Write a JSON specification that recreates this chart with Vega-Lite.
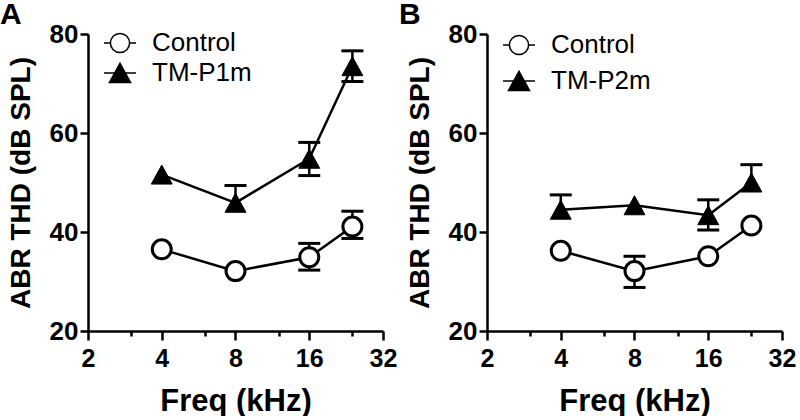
{
  "$schema": "https://vega.github.io/schema/vega-lite/v6.json",
  "background": "white",
  "padding": {"left": 0, "top": 0, "right": 0, "bottom": 0},
  "config": {
    "view": {"stroke": null},
    "axis": {"domainColor": "black", "domainWidth": 2.5, "tickColor": "black", "tickWidth": 2.5, "labelFont": "Liberation Sans", "labelFontWeight": "bold", "labelColor": "black", "titleFont": "Liberation Sans", "titleFontWeight": "bold", "titleColor": "black", "grid": false, "labelFlush": false},
    "axisY": {"tickSize": 8, "labelFontSize": 26, "labelPadding": 2, "titleFontSize": 28, "titlePadding": 14},
    "axisX": {"labelFontSize": 25, "labelPadding": 6, "titleFontSize": 31, "titlePadding": 15},
    "title": {"font": "Liberation Sans", "fontSize": 30, "fontWeight": "bold", "color": "black", "anchor": "start", "frame": "bounds", "dx": -7, "offset": -9},
    "legend": {"labelFont": "Liberation Sans", "labelFontSize": 26, "labelColor": "black", "symbolSize": 1024, "padding": 0, "labelOffset": 15, "orient": "none", "title": null}
  },
  "datasets": {
    "abr": [
      {"panel": "A", "series": "Control", "freq": 4, "thd": 36.5, "lo": 36.5, "hi": 36.5},
      {"panel": "A", "series": "Control", "freq": 8, "thd": 32.1, "lo": 32.1, "hi": 32.1},
      {"panel": "A", "series": "Control", "freq": 16, "thd": 34.9, "lo": 32.3, "hi": 37.7},
      {"panel": "A", "series": "Control", "freq": 24, "thd": 41.1, "lo": 38.7, "hi": 44.2},
      {"panel": "A", "series": "TM-P1m", "freq": 4, "thd": 51.6, "lo": 51.6, "hi": 51.6},
      {"panel": "A", "series": "TM-P1m", "freq": 8, "thd": 45.9, "lo": 45.9, "hi": 49.4},
      {"panel": "A", "series": "TM-P1m", "freq": 16, "thd": 54.8, "lo": 51.4, "hi": 58.1},
      {"panel": "A", "series": "TM-P1m", "freq": 24, "thd": 73.5, "lo": 70.4, "hi": 76.6},
      {"panel": "B", "series": "Control", "freq": 4, "thd": 36.2, "lo": 36.2, "hi": 36.2},
      {"panel": "B", "series": "Control", "freq": 8, "thd": 32.1, "lo": 28.8, "hi": 35.1},
      {"panel": "B", "series": "Control", "freq": 16, "thd": 35.1, "lo": 35.1, "hi": 35.1},
      {"panel": "B", "series": "Control", "freq": 24, "thd": 41.3, "lo": 41.3, "hi": 41.3},
      {"panel": "B", "series": "TM-P2m", "freq": 4, "thd": 44.5, "lo": 44.5, "hi": 47.5},
      {"panel": "B", "series": "TM-P2m", "freq": 8, "thd": 45.4, "lo": 45.4, "hi": 45.4},
      {"panel": "B", "series": "TM-P2m", "freq": 16, "thd": 43.4, "lo": 40.4, "hi": 46.5},
      {"panel": "B", "series": "TM-P2m", "freq": 24, "thd": 50.0, "lo": 50.0, "hi": 53.6}
    ]
  },
  "data": {"name": "abr"},
  "spacing": 2,
  "resolve": {"scale": {"shape": "independent", "fill": "independent"}, "legend": {"shape": "independent", "fill": "independent"}},
  "hconcat": [
    {
      "width": 295, "height": 297,
      "title": {"text": "A"},
      "transform": [{"filter": "datum.panel == 'A'"}],
      "encoding": {
        "x": {"field": "freq", "type": "quantitative", "title": "Freq (kHz)",
          "scale": {"type": "log", "base": 2, "domain": [2, 32]},
          "axis": {"values": [2, 3, 4, 6, 8, 12, 16, 24, 32], "format": "d",
            "labelExpr": "indexof([2,4,8,16,32], datum.value) >= 0 ? datum.label : ''",
            "tickSize": {"condition": {"test": "indexof([2,4,8,16,32], datum.value) >= 0", "value": 9}, "value": 5}}}
      },
      "layer": [
        {"mark": {"type": "line", "color": "black", "strokeWidth": 2.5},
         "encoding": {"y": {"field": "thd", "type": "quantitative", "title": "ABR THD (dB SPL)", "scale": {"domain": [20, 80]}, "axis": {"values": [20, 40, 60, 80]}}, "detail": {"field": "series"}}},
        {"mark": {"type": "rule", "color": "black", "strokeWidth": 2.5},
         "transform": [{"filter": "datum.hi > datum.lo"}],
         "encoding": {"y": {"field": "lo", "type": "quantitative", "title": "ABR THD (dB SPL)"}, "y2": {"field": "hi"}}},
        {"mark": {"type": "tick", "orient": "horizontal", "color": "black", "size": 22, "thickness": 3, "opacity": 1},
         "transform": [{"filter": "datum.hi > datum.thd"}],
         "encoding": {"y": {"field": "hi", "type": "quantitative", "title": "ABR THD (dB SPL)"}}},
        {"mark": {"type": "tick", "orient": "horizontal", "color": "black", "size": 22, "thickness": 3, "opacity": 1},
         "transform": [{"filter": "datum.lo < datum.thd"}],
         "encoding": {"y": {"field": "lo", "type": "quantitative", "title": "ABR THD (dB SPL)"}}},
        {"mark": {"type": "point", "shape": "circle", "filled": true, "fill": "white", "stroke": "black", "strokeWidth": 3, "size": 361, "opacity": 1},
         "transform": [{"filter": "datum.series == 'Control'"}],
         "encoding": {"y": {"field": "thd", "type": "quantitative", "title": "ABR THD (dB SPL)"}}},
        {"mark": {"type": "point", "shape": "M0,-1L1.1,1L-1.1,1Z", "filled": true, "fill": "black", "stroke": "black", "strokeWidth": 1, "size": 361, "opacity": 1},
         "transform": [{"filter": "datum.series != 'Control'"}],
         "encoding": {"y": {"field": "thd", "type": "quantitative", "title": "ABR THD (dB SPL)"}}},
        {"mark": {"type": "point", "filled": true, "stroke": "black", "strokeWidth": 3, "opacity": 1},
         "transform": [{"filter": "false"}],
         "encoding": {
           "y": {"field": "thd", "type": "quantitative", "title": "ABR THD (dB SPL)"},
           "shape": {"field": "series", "type": "nominal",
             "scale": {"domain": ["Control", "TM-P1m"], "range": ["M-1,0H-0.6M0.6,0H1M-0.6,0A0.6,0.6 0 1,1 0.6,0A0.6,0.6 0 1,1 -0.6,0Z", "M-1,0H1M0,-0.6L0.66,0.6L-0.66,0.6Z"]},
             "legend": {"legendX": 15, "legendY": -8, "rowPadding": 0, "encode": {"symbols": {"update": {"stroke": {"value": "black"}, "strokeWidth": {"value": 3}, "opacity": {"value": 1}}}}}},
           "fill": {"field": "series", "type": "nominal",
             "scale": {"domain": ["Control", "TM-P1m"], "range": ["white", "black"]},
             "legend": {"legendX": 15, "legendY": -8, "rowPadding": 0, "encode": {"symbols": {"update": {"stroke": {"value": "black"}, "strokeWidth": {"value": 3}, "opacity": {"value": 1}}}}}}
         }}
      ]
    },
    {
      "width": 295, "height": 297,
      "title": {"text": "B"},
      "transform": [{"filter": "datum.panel == 'B'"}],
      "encoding": {
        "x": {"field": "freq", "type": "quantitative", "title": "Freq (kHz)",
          "scale": {"type": "log", "base": 2, "domain": [2, 32]},
          "axis": {"values": [2, 3, 4, 6, 8, 12, 16, 24, 32], "format": "d",
            "labelExpr": "indexof([2,4,8,16,32], datum.value) >= 0 ? datum.label : ''",
            "tickSize": {"condition": {"test": "indexof([2,4,8,16,32], datum.value) >= 0", "value": 9}, "value": 5}}}
      },
      "layer": [
        {"mark": {"type": "line", "color": "black", "strokeWidth": 2.5},
         "encoding": {"y": {"field": "thd", "type": "quantitative", "title": "ABR THD (dB SPL)", "scale": {"domain": [20, 80]}, "axis": {"values": [20, 40, 60, 80]}}, "detail": {"field": "series"}}},
        {"mark": {"type": "rule", "color": "black", "strokeWidth": 2.5},
         "transform": [{"filter": "datum.hi > datum.lo"}],
         "encoding": {"y": {"field": "lo", "type": "quantitative", "title": "ABR THD (dB SPL)"}, "y2": {"field": "hi"}}},
        {"mark": {"type": "tick", "orient": "horizontal", "color": "black", "size": 22, "thickness": 3, "opacity": 1},
         "transform": [{"filter": "datum.hi > datum.thd"}],
         "encoding": {"y": {"field": "hi", "type": "quantitative", "title": "ABR THD (dB SPL)"}}},
        {"mark": {"type": "tick", "orient": "horizontal", "color": "black", "size": 22, "thickness": 3, "opacity": 1},
         "transform": [{"filter": "datum.lo < datum.thd"}],
         "encoding": {"y": {"field": "lo", "type": "quantitative", "title": "ABR THD (dB SPL)"}}},
        {"mark": {"type": "point", "shape": "circle", "filled": true, "fill": "white", "stroke": "black", "strokeWidth": 3, "size": 361, "opacity": 1},
         "transform": [{"filter": "datum.series == 'Control'"}],
         "encoding": {"y": {"field": "thd", "type": "quantitative", "title": "ABR THD (dB SPL)"}}},
        {"mark": {"type": "point", "shape": "M0,-1L1.1,1L-1.1,1Z", "filled": true, "fill": "black", "stroke": "black", "strokeWidth": 1, "size": 361, "opacity": 1},
         "transform": [{"filter": "datum.series != 'Control'"}],
         "encoding": {"y": {"field": "thd", "type": "quantitative", "title": "ABR THD (dB SPL)"}}},
        {"mark": {"type": "point", "filled": true, "stroke": "black", "strokeWidth": 3, "opacity": 1},
         "transform": [{"filter": "false"}],
         "encoding": {
           "y": {"field": "thd", "type": "quantitative", "title": "ABR THD (dB SPL)"},
           "shape": {"field": "series", "type": "nominal",
             "scale": {"domain": ["Control", "TM-P2m"], "range": ["M-1,0H-0.6M0.6,0H1M-0.6,0A0.6,0.6 0 1,1 0.6,0A0.6,0.6 0 1,1 -0.6,0Z", "M-1,0H1M0,-0.6L0.66,0.6L-0.66,0.6Z"]},
             "legend": {"legendX": 15, "legendY": -6, "rowPadding": 6, "encode": {"symbols": {"update": {"stroke": {"value": "black"}, "strokeWidth": {"value": 3}, "opacity": {"value": 1}}}}}},
           "fill": {"field": "series", "type": "nominal",
             "scale": {"domain": ["Control", "TM-P2m"], "range": ["white", "black"]},
             "legend": {"legendX": 15, "legendY": -6, "rowPadding": 6, "encode": {"symbols": {"update": {"stroke": {"value": "black"}, "strokeWidth": {"value": 3}, "opacity": {"value": 1}}}}}}
         }}
      ]
    }
  ]
}
